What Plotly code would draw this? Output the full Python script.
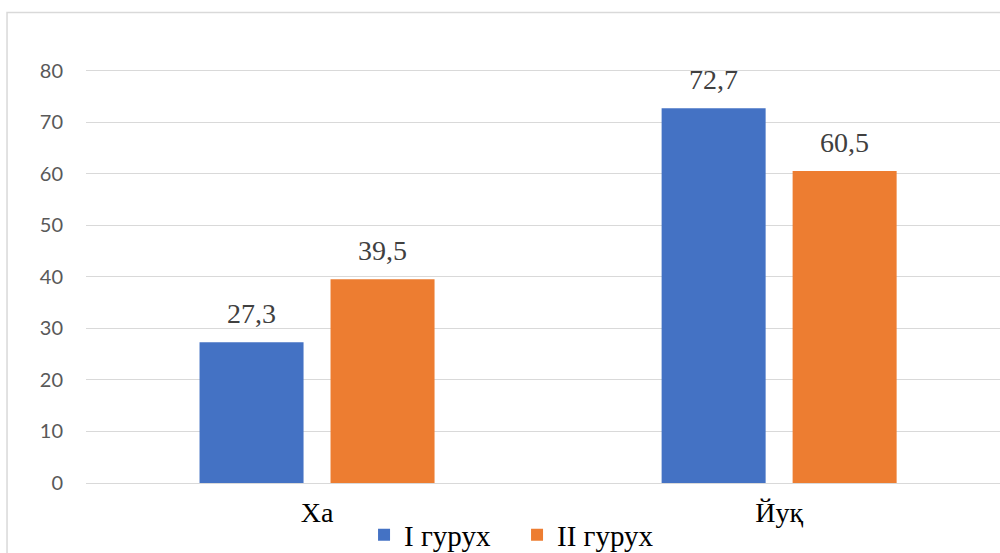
import plotly.graph_objects as go

# Survey answers by group (percent)
categories = ["Ха", "Йуқ"]
group_names = ["I гурух", "II гурух"]
group1_values = [27.3, 72.7]
group2_values = [39.5, 60.5]
y_ticks = [0, 10, 20, 30, 40, 50, 60, 70, 80]

colors = ["#4472C4", "#ED7D31"]
serif = "Liberation Serif"

fig = go.Figure()
for name, vals, col in zip(group_names, [group1_values, group2_values], colors):
    fig.add_trace(go.Bar(
        x=categories, y=vals, name=name,
        marker=dict(color=col, line=dict(width=0)),
    ))

# Value labels above each bar
for vals, shift in zip([group1_values, group2_values], [-65.5, 65.5]):
    for cat, v in zip(categories, vals):
        fig.add_annotation(
            x=cat, y=v, text=f"{v:.1f}".replace(".", ","),
            xref="x", yref="y", showarrow=False,
            xshift=shift, yshift=11, yanchor="bottom",
            font=dict(family=serif, size=28, color="#404040"),
        )

# Chart area frame
fig.add_shape(type="rect", xref="paper", yref="paper",
              x0=-0.0864, x1=1.05, y0=-0.3, y1=1.0142,
              line=dict(color="#d9d9d9", width=1.5), layer="below")

fig.update_layout(
    width=1000, height=553,
    margin=dict(l=86, r=0, t=19, b=70, autoexpand=False),
    paper_bgcolor="white", plot_bgcolor="white",
    barmode="group", bargap=0.433, bargroupgap=0.206,
    showlegend=True,
    legend=dict(orientation="h", x=0.4716, xanchor="center",
                y=-0.112, yanchor="middle",
                font=dict(family=serif, size=29, color="#000000"),
                itemwidth=30, entrywidth=108, entrywidthmode="pixels",
                tracegroupgap=0, bgcolor="rgba(0,0,0,0)"),
    xaxis=dict(range=[-0.5, 1.478], showgrid=False, zeroline=False,
               showline=False, ticks="", ticklabelstandoff=10, automargin=False,
               tickfont=dict(family=serif, size=28, color="#000000")),
    yaxis=dict(range=[0, 90], tickvals=y_ticks, showgrid=True,
               gridcolor="#d9d9d9", gridwidth=1.3, zeroline=True,
               zerolinecolor="#d9d9d9", zerolinewidth=1.3, automargin=False,
               showline=False, ticks="", ticklabelstandoff=22,
               tickfont=dict(family="Lato", size=20, color="#595959")),
)

fig.write_html("out.html", config={"displayModeBar": False})
